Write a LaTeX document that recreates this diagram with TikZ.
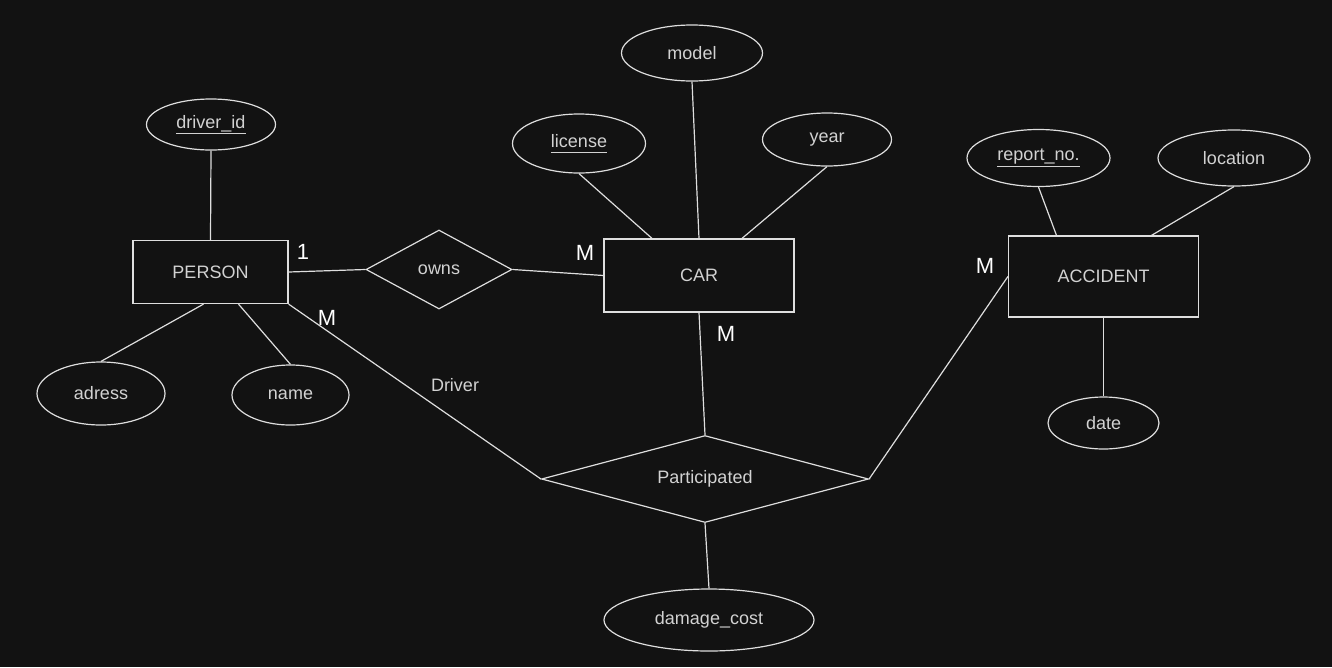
\documentclass[tikz,border=0pt]{standalone}
\usepackage{fontspec}
\setmainfont{Liberation Sans}
\usetikzlibrary{shapes.geometric}
\definecolor{bgdark}{HTML}{121212}
\definecolor{edgegray}{HTML}{DEDEDE}
\definecolor{textgray}{HTML}{D2D2D2}
\newlength{\keywd}
\newcommand{\keyattr}[1]{\settowidth{\keywd}{#1}#1\llap{\rule[-6pt]{\keywd}{1pt}}}
\begin{document}
\begin{tikzpicture}[
    x=1pt, y=-1pt,
    line width=1.2pt,
    every node/.style={font=\fontsize{18}{20}\selectfont, text=textgray},
    entity/.style={rectangle, draw=edgegray, inner sep=0pt},
    attribute/.style={ellipse, draw=edgegray, inner sep=0pt},
    relation/.style={diamond, draw=edgegray, inner sep=0pt},
    card/.style={font=\fontsize{22}{24}\selectfont, text=white},
    link/.style={draw=edgegray},
]

% Sfondo
\fill[bgdark] (0,0) rectangle (1332,667);
\useasboundingbox (0,0) rectangle (1332,667);

% Entita
\node[entity, minimum width=155pt, minimum height=63pt] (person) at (210.5,272) {PERSON};
\node[entity, minimum width=190pt, minimum height=73pt] (car) at (699,275.5) {CAR};
\node[entity, minimum width=190pt, minimum height=81pt] (accident) at (1103.5,276.5) {ACCIDENT};

% Relazioni
\node[relation, minimum width=146pt, minimum height=79pt] (owns) at (439,269.5) {owns};
\node[relation, aspect=3.76, minimum width=327pt, minimum height=87pt] (part) at (705,479) {Participated};

% Attributi PERSON
\node[attribute, minimum width=129pt, minimum height=51pt] (driverid) at (211,124.5) {\keyattr{driver\_id}};
\node[attribute, minimum width=128pt, minimum height=63pt] (adress) at (101,393.5) {adress};
\node[attribute, minimum width=117pt, minimum height=60pt] (name) at (290.5,395) {name};

% Attributi CAR
\node[attribute, minimum width=141pt, minimum height=56pt] (model) at (692,53) {model};
\node[attribute, minimum width=133pt, minimum height=59pt] (license) at (579,143.5) {\keyattr{license}};
\node[attribute, minimum width=129pt, minimum height=53pt] (year) at (827,139.5) {year};

% Attributi ACCIDENT
\node[attribute, minimum width=143pt, minimum height=57pt] (reportno) at (1038.5,158) {\keyattr{report\_no.}};
\node[attribute, minimum width=152pt, minimum height=56pt] (location) at (1234,158) {location};
\node[attribute, minimum width=111pt, minimum height=52pt] (date) at (1103.5,423) {date};

% Attributo Participated
\node[attribute, minimum width=210pt, minimum height=62pt] (damage) at (709,620) {damage\_cost};

% Collegamenti attributi
\draw[link] (driverid.south) -- (person.north);
\draw[link] ([xshift=-7pt]person.south) -- (adress.north);
\draw[link] ([xshift=28pt]person.south) -- (name.north);
\draw[link] (license.south) -- ([xshift=-47pt]car.north);
\draw[link] (model.south) -- (car.north);
\draw[link] (year.south) -- ([xshift=43pt]car.north);
\draw[link] (reportno.south) -- ([xshift=-47pt]accident.north);
\draw[link] (location.south) -- ([xshift=48pt]accident.north);
\draw[link] (accident.south) -- (date.north);
\draw[link] (part.south) -- (damage.north);

% Collegamenti relazioni
\draw[link] (person.east) -- (owns.west);
\draw[link] (owns.east) -- (car.west);
\draw[link] (person.south east) -- (part.west);
\draw[link] (car.south) -- (part.north);
\draw[link] (part.east) -- (accident.west);

% Cardinalita
\node[card] (c1) at (303,252) {1};
\node[card] (c2) at (327,318) {M};
\node[card] (c3) at (585,253) {M};
\node[card] (c4) at (726,334) {M};
\node[card] (c5) at (985,266) {M};
\node (driver) at (455,385) {Driver};

\end{tikzpicture}
\end{document}
